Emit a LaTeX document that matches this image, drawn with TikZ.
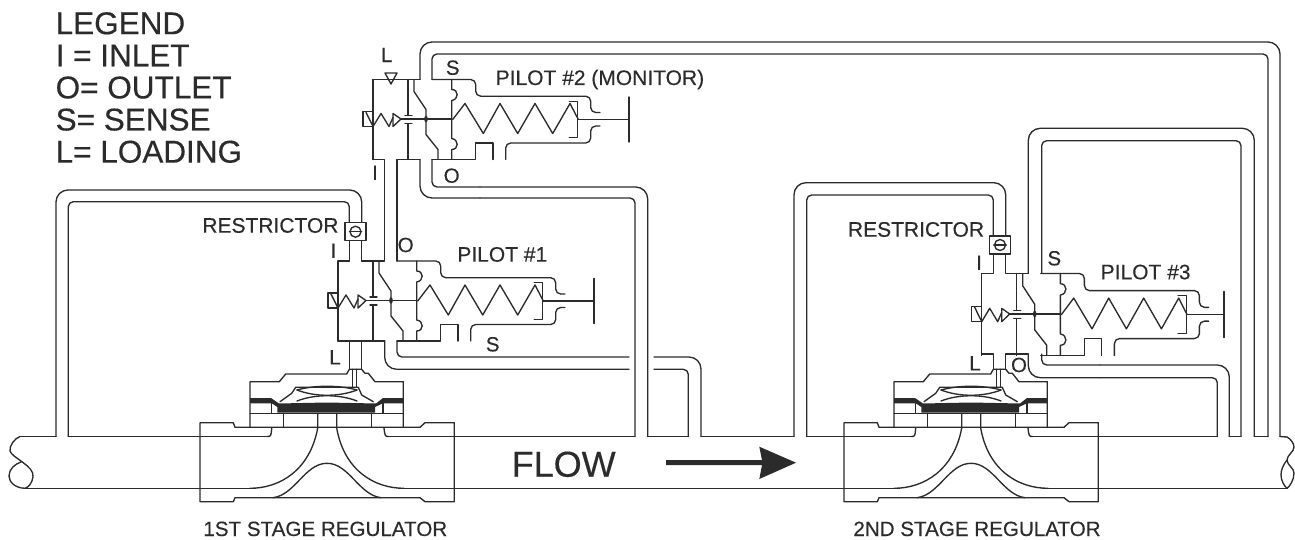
\documentclass[tikz,border=0pt]{standalone}
\usepackage{fontspec}
\setmainfont{Liberation Sans}[FakeBold=0.35]
\usetikzlibrary{calc}
\definecolor{ink}{gray}{0.17}

\newcommand{\pilotbody}[1]{%
  \draw (0,0) -- (0,80);
  \draw (-10,32) rectangle (0,47);
  \draw (-7,33) -- (0,47) -- (8,34) -- (16,47) -- (20,38);
  \draw (20,34) -- (28,39.5) -- (20,47) -- cycle;
  \draw (35,0) -- (35,36) (32,36) -- (39,36);
  \draw (32,44) -- (39,44) (35,44) -- (35,80);
  \draw (28,39.5) -- (78.7,39.5);
  \fill (53,39.5) ellipse (1.8 and 3.2);
  \draw (41,0) -- (41,12) -- (53,30) -- (53,55) -- (65,70) -- (65,80);
  % sense line with its two bellows
  \draw (78.7,0) -- (78.7,10) .. controls (86,10) and (86,20) .. (78.7,21) -- (78.7,59)
    .. controls (86,60) and (86,70) .. (78.7,70) -- (78.7,80);
  \draw (79.7,40) -- (92,24) -- (110.3,54) -- (127,24) -- (144.7,54)
    -- (162,24) -- (179.7,54) -- (197,24) -- (205.3,40);
  \draw (196.3,21.7) -- (204.7,21.7) -- (204.7,58.3) -- (196.3,58.3);
  \draw (204.7,40) -- (#1,40);
  \draw (#1,17.5) -- (#1,62.5);
  \draw[roundtube] (59,0) -- (102.7,0) -- (102.7,16.7) -- (217.7,16.7) -- (217.7,33) -- (227,33);
  \draw (59,80) -- (102.7,80) -- (102.7,63.5) -- (120,63.5) -- (120,80);
  \draw[roundtube] (132.7,80) -- (132.7,63.5) -- (217.7,63.5) -- (217.7,46.5) -- (227,46.5);
}

\newcommand{\regulatorbody}{%
  \draw (235,427.3) -- (233.3,422.7) -- (200,422.7) -- (200,501.7) -- (233.3,501.7)
    -- (235,497.7) -- (420,497.7) -- (425,501.7) -- (454.3,501.7) -- (454.3,422.7)
    -- (425,422.7) -- (420,427.3) -- cycle;
  \draw (266.7,436.5) .. controls (271,436.5) .. (271.7,428);
  \draw (384,428) .. controls (385,436.5) .. (389,436.5);
  \draw (317.7,413.3) -- (317.7,428) .. controls (310,470) and (280,488.3) .. (250,488.3);
  \draw (336.7,413.3) -- (336.7,428) .. controls (344,470) and (374,488.3) .. (404,488.3);
  \draw (273,497.7) .. controls (295,495) and (305,463.3) .. (327,463.3)
    .. controls (349,463.3) and (359,495) .. (381,497.7);
  \draw (250,427.3) -- (250,381.7) -- (279.3,381.7) -- (285.7,374) -- (346.7,374)
    -- (349.3,369.3) -- (361.7,369.3) -- (365,373.3) -- (368.3,373.3) -- (375,381.7)
    -- (403.3,381.7) -- (403.3,427.3);
  \draw (352.3,369.3) -- (352.3,387) (356.7,369.3) -- (356.7,387);
  \fill (250,398) -- (271,398) -- (279,403.5) -- (327,402.5) -- (376,403.5) -- (383,398)
    -- (403.3,398) -- (403.3,403.3) -- (383,403.3) -- (375,407) -- (375,412.7)
    -- (277.3,412.7) -- (277.3,407) -- (271.7,403.3) -- (250,403.3) -- cycle;
  \draw (250,413.3) -- (403.3,413.3);
  \draw (271.7,403) -- (271.7,413.3) (383,403) -- (383,413.3);
  \draw (283.3,413.3) -- (283.3,427.3) (371.7,413.3) -- (371.7,427.3);
  \draw (280,401.7) -- (291.7,393.3) -- (295.7,387.3) -- (358.3,387.3) -- (361.7,395) -- (373.3,401.7);
  \draw (297,390) .. controls (315,397) and (339,397) .. (357,390);
  \draw (297,390) .. controls (315,385) and (339,385) .. (357,390);
  \draw (297,401) .. controls (315,394) and (339,394) .. (357,401);
}

\begin{document}
\begin{tikzpicture}[x=1pt, y=-1pt, line width=1.35pt, line cap=round, line join=round,
    ink, every node/.style={text=ink},
    roundtube/.style={rounded corners=5pt},
    widetube/.style={rounded corners=12pt},
    legendtext/.style={font=\fontsize{31.5}{32.1}\selectfont, align=left, anchor=north west, inner sep=0pt},
    partname/.style={font=\fontsize{21}{21}\selectfont, anchor=base west, inner sep=0pt},
    portname/.style={font=\fontsize{20.5}{20.5}\selectfont, inner sep=0pt},
    restrictor/.style={draw, fill=white, minimum width=21pt, minimum height=18pt, inner sep=0pt},
    orifice/.style={draw, circle, minimum size=11pt, inner sep=0pt}]

  \useasboundingbox (0,0) rectangle (1295,540);

  % line pipe with its two broken ends
  \draw (20,436.5) -- (56,436.5);
  \draw (68.3,436.5) -- (266.7,436.5);
  \draw (389,436.5) -- (635,436.5);
  \draw (647.7,436.5) -- (688.3,436.5);
  \draw (701,436.5) -- (794,436.5);
  \draw (806.7,436.5) -- (910.7,436.5);
  \draw (1033,436.5) -- (1217.3,436.5);
  \draw (1229.3,436.5) -- (1241,436.5);
  \draw (1254.3,436.5) -- (1268,436.5);
  \draw (1280,436.5) -- (1287,437);
  \draw (25,488.3) -- (250,488.3);
  \draw (404,488.3) -- (894,488.3);
  \draw (1048,488.3) -- (1287,488.3);
  \draw (20,436.5) .. controls (15,438) and (9,446) .. (10,451)
    .. controls (12,458) and (35,466) .. (33,477) .. controls (32,483) and (29,487) .. (25,488.3);
  \draw (25,488.3) .. controls (15,488) and (9,482) .. (9,476) .. controls (9,469) and (15,464) .. (21,462);
  \draw (1287,437) .. controls (1291,439) and (1294,444) .. (1294,447)
    .. controls (1294,452) and (1287,455) .. (1287,460)
    .. controls (1287,465) and (1294,468) .. (1294,473) .. controls (1294,480) and (1290,486) .. (1287,488.3);
  \draw (1287,460) .. controls (1283,465) and (1281,470) .. (1281,475) .. controls (1281,480) and (1284,486) .. (1287,488.3);

  % regulators
  \regulatorbody
  \begin{scope}[xshift=644pt]
    \regulatorbody
  \end{scope}

  % pilots
  \begin{scope}[shift={(373,79.5)}]
    \pilotbody{256}
  \end{scope}
  \begin{scope}[shift={(338,261)}]
    \pilotbody{256}
  \end{scope}
  \begin{scope}[shift={(981.7,273.5)}, yscale=1.025]
    \pilotbody{242.3}
  \end{scope}

  % pilot 2 tubing
  \draw (373,79.5) -- (420,79.5);
  \draw (391,84) -- (385,73) -- (397,73) -- cycle;
  \draw[widetube] (420,79.5) -- (420,42) -- (1280,42) -- (1280,436.5);
  \draw[roundtube] (432,79.5) -- (432,54) -- (1268,54) -- (1268,436.5);
  \draw (373,159.5) -- (384.7,159.5) -- (384.7,261) -- (361.7,261);
  \draw (338,261) -- (349.3,261);
  \draw (420,159.5) -- (397,159.5) -- (397,261);
  \draw[widetube] (420,159.5) -- (420,198) -- (480,198);
  \draw[roundtube] (480,198) -- (635,198) -- (635,436.5);
  \draw[roundtube] (432,159.5) -- (432,187) -- (480,187);
  \draw[widetube] (480,187) -- (647.7,187) -- (647.7,436.5);

  % pilot 1 tubing
  \draw (338,341) -- (384.7,341);
  \draw (349.3,341) -- (349.3,369.3) (361.7,341) -- (361.7,369.3);
  \draw[widetube] (384.7,341) -- (384.7,369.3) -- (629,369.3);
  \draw[roundtube] (397,341) -- (397,357) -- (629,357);
  \draw[widetube] (654,357) -- (701,357) -- (701,436.5);
  \draw[roundtube] (654,369.3) -- (688.3,369.3) -- (688.3,436.5);
  \draw[widetube] (361.7,223) -- (361.7,190) -- (56,190) -- (56,436.5);
  \draw[roundtube] (349.3,223) -- (349.3,201.7) -- (68.3,201.7) -- (68.3,436.5);
  \draw (349.3,240) -- (349.3,261) (361.7,240) -- (361.7,261);
  \node[restrictor] (restrict1) at (355.5,231.7) {};
  \node[orifice] (hole1) at (restrict1) {};
  \draw (hole1.west) -- (hole1.east);

  % pilot 3 tubing
  \draw[widetube] (1005.7,236) -- (1005.7,182.7) -- (794,182.7) -- (794,436.5);
  \draw[roundtube] (993.3,236) -- (993.3,195) -- (806.7,195) -- (806.7,436.5);
  \draw (993.3,254) -- (993.3,273.5) -- (981.7,273.5);
  \draw (1005.7,254) -- (1005.7,273.5) -- (1028.3,273.5);
  \draw[widetube] (1028.3,273.5) -- (1028.3,128.3) -- (1254.3,128.3) -- (1254.3,436.5);
  \draw[roundtube] (1041.7,273.5) -- (1041.7,140.7) -- (1241,140.7) -- (1241,436.5);
  \draw (981.7,354) -- (993.3,354) -- (993.3,369.3);
  \draw (1005.7,369.3) -- (1005.7,354) -- (1028.3,354);
  \draw[widetube] (1028.3,354) -- (1028.3,377.7) -- (1100,377.7);
  \draw[roundtube] (1100,377.7) -- (1217.3,377.7) -- (1217.3,436.5);
  \draw[roundtube] (1041.7,354) -- (1041.7,365) -- (1100,365);
  \draw[widetube] (1100,365) -- (1229.3,365) -- (1229.3,436.5);
  \node[restrictor] (restrict2) at (1000,245) {};
  \node[orifice] (hole2) at (restrict2) {};
  \draw (hole2.west) -- (hole2.east);

  % flow arrow
  \fill (666,460.2) -- (762,460.2) -- (759.3,446.7) -- (796,462.7) -- (759.3,479) -- (762,465.2) -- (666,465.2) -- cycle;

  % labels
  \node[legendtext] (legend) at (55,11.5) {LEGEND\\I = INLET\\O= OUTLET\\S= SENSE\\L= LOADING};
  \node[font=\fontsize{36}{36}\selectfont, anchor=base west, inner sep=0pt] (flow) at (511,476.7) {FLOW};
  \node[partname] (restname1) at (201.7,232.7) {RESTRICTOR};
  \node[partname] (restname2) at (847.3,236.7) {RESTRICTOR};
  \node[partname] (pilotname1) at (456.7,261.7) {PILOT \#1};
  \node[partname] (pilotname2) at (495,85) {PILOT \#2 (MONITOR)};
  \node[partname] (pilotname3) at (1100,279.3) {PILOT \#3};
  \node[partname, font=\fontsize{20.6}{20.6}\selectfont] (stage1) at (202.7,536) {1ST STAGE REGULATOR};
  \node[partname, font=\fontsize{20.6}{20.6}\selectfont] (stage2) at (852.7,536) {2ND STAGE REGULATOR};
  \node[portname] (load2) at (386.7,55) {L};
  \node[portname] (sense2) at (452.7,67.7) {S};
  \node[portname] (inlet2) at (375,172.7) {I};
  \node[portname] (outlet2) at (451.7,175.7) {O};
  \node[portname] (inlet1) at (333.3,250.7) {I};
  \node[portname] (outlet1) at (405.7,245) {O};
  \node[portname] (load1) at (335,357.3) {L};
  \node[portname] (sense1) at (492.7,344.3) {S};
  \node[portname] (inlet3) at (979,262.7) {I};
  \node[portname] (sense3) at (1054.3,258.3) {S};
  \node[portname] (load3) at (975,363.3) {L};
  \node[portname] (outlet3) at (1019,365) {O};
\end{tikzpicture}
\end{document}
